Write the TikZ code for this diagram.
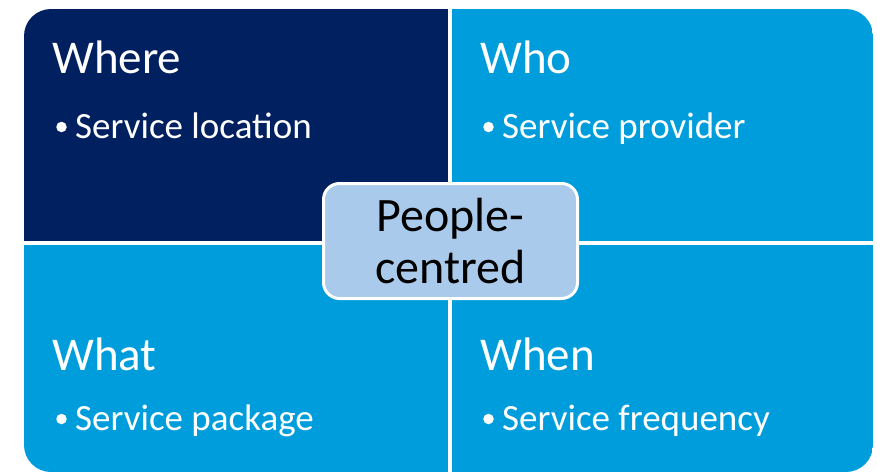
\documentclass[tikz,border=0pt]{standalone}
\usepackage{fontspec}
\setmainfont{Carlito}
\definecolor{navy}{HTML}{002060}
\definecolor{skyblue}{HTML}{009DDC}
\definecolor{paleblue}{HTML}{AACAEB}
\begin{document}
\begin{tikzpicture}[x=1pt,y=-1pt,
  quadtitle/.style={anchor=base west,inner sep=0pt,text=white,
    font=\fontsize{47}{56}\selectfont},
  quaditem/.style={anchor=base west,inner sep=0pt,text=white,
    font=\fontsize{37}{44}\selectfont},
  itemdot/.style={circle,fill=white,inner sep=0pt,minimum size=10.5pt},
  centerbox/.style={draw=white,line width=3pt,fill=paleblue,rounded corners=16pt,
    minimum width=254pt,minimum height=115pt,align=center,text=black,
    font=\fontsize{48}{52}\selectfont}]
\useasboundingbox (0,0) rectangle (877,474);
% four quadrants, cut from one rounded panel, separated by white gaps
\begin{scope}
  \clip[rounded corners=27pt] (24,9) rectangle (873,472);
  \fill[navy] (24,9) rectangle (448,241);
  \fill[skyblue] (452,9) rectangle (873,241);
  \fill[skyblue] (24,245) rectangle (448,472);
  \fill[skyblue] (452,245) rectangle (873,472);
\end{scope}
% quadrant headings, bullets and items
\node[quadtitle] (where) at (52,73) {Where};
\node[itemdot] (wheredot) at (61.5,127) {};
\node[quaditem] (whereitem) at (75,138) {Service location};
\node[quadtitle] (who) at (480,73) {Who};
\node[itemdot] (whodot) at (488.5,127) {};
\node[quaditem] (whoitem) at (502,138) {Service provider};
\node[quadtitle] (what) at (52,370) {What};
\node[itemdot] (whatdot) at (61.5,419) {};
\node[quaditem] (whatitem) at (75,430) {Service package};
\node[quadtitle] (when) at (480,370) {When};
\node[itemdot] (whendot) at (488.5,419) {};
\node[quaditem] (whenitem) at (502,430) {Service frequency};
% central box
\node[centerbox] (core) at (450.5,241) {People-\\centred};
\end{tikzpicture}
\end{document}
